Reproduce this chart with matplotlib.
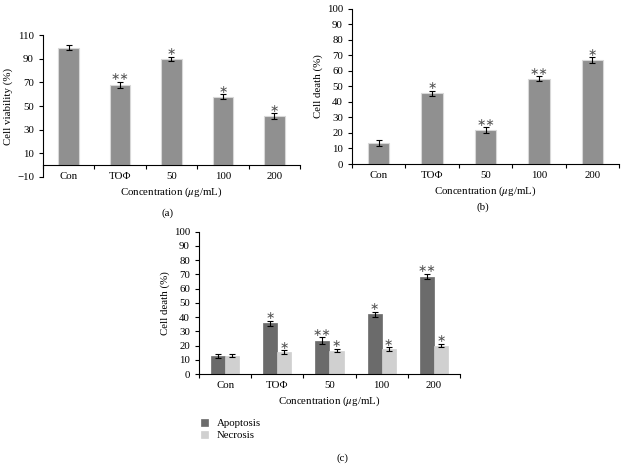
# three bar panels: cell viability, cell death, apoptosis / necrosis

import numpy as np
import matplotlib.pyplot as plt

plt.rcParams['font.family'] = ['Liberation Serif', 'DejaVu Sans']
plt.rcParams['mathtext.fontset'] = 'stix'
plt.rcParams['font.size'] = 7.8

# data
groups = ['Con', 'TOΦ', '50', '100', '200']

viability = [99.5, 68, 90, 58, 41.5]
viability_err = [2.2, 2.5, 2.0, 2.0, 2.2]
viability_mark = ['', '∗∗', '∗', '∗', '∗']

death = [13.5, 45.5, 22, 55, 67]
death_err = [1.8, 1.8, 1.8, 1.5, 1.8]
death_mark = ['', '∗', '∗∗', '∗∗', '∗']

apoptosis = [12.5, 35.5, 23.5, 42, 68.5]
apoptosis_err = [1.5, 2.0, 2.2, 1.6, 2.0]
apoptosis_mark = ['', '∗', '∗∗', '∗', '∗∗']
necrosis = [13, 15.5, 16.5, 17.5, 20]
necrosis_err = [1.3, 1.3, 1.3, 1.3, 1.3]
necrosis_mark = ['', '∗', '∗', '∗', '∗']

xlab = r'Concentration ($\mu$g/mL)'
mark_kw = dict(ha='center', va='bottom', fontsize=8, color='#555555',
               family=['DejaVu Sans'])
err_kw = dict(ecolor='black', elinewidth=0.8, capsize=2, capthick=0.8)


def style_axis(ax, ymin, ymax, step):
    x = np.arange(len(groups))
    ax.spines['top'].set_visible(False)
    ax.spines['right'].set_visible(False)
    ax.spines['bottom'].set_position(('data', 0))
    ax.set_xlim(-0.5, len(groups) - 0.5)
    ax.set_ylim(ymin, ymax)
    ax.set_yticks(np.arange(ymin, ymax + 1, step))
    ax.set_xticks(np.arange(-0.5, len(groups), 1.0))
    ax.set_xticklabels([])
    ax.set_xticks(x, minor=True)
    ax.set_xticklabels(groups, minor=True)
    ax.tick_params(axis='x', which='minor', length=0, pad=5)
    ax.tick_params(axis='both', which='major', length=3, width=0.8)
    for s in ax.spines.values():
        s.set_linewidth(0.8)


fig = plt.figure(figsize=(6.22, 4.67), dpi=100)

# (a) cell viability
ax = fig.add_axes([0.0691, 0.6216, 0.4132, 0.3028])
x = np.arange(len(groups))
ax.bar(x, viability, 0.4, yerr=viability_err, color='#909090',
       edgecolor='#d8d8d8', linewidth=0.8, error_kw=err_kw)
for xi, v, e, m in zip(x, viability, viability_err, viability_mark):
    ax.text(xi, v + e - 0.5, m, **mark_kw)
style_axis(ax, -10, 110, 20)
ax.set_ylabel('Cell viability (%)', labelpad=3)
ax.set_xlabel(xlab, labelpad=3)
fig.text(0.2685, 0.5439, '(a)', ha='center', va='center')

# (b) cell death
ax = fig.add_axes([0.5659, 0.6488, 0.4293, 0.3326])
ax.bar(x, death, 0.4, yerr=death_err, color='#909090',
       edgecolor='#d8d8d8', linewidth=0.8, error_kw=err_kw)
for xi, v, e, m in zip(x, death, death_err, death_mark):
    ax.text(xi, v + e - 0.3, m, **mark_kw)
style_axis(ax, 0, 100, 10)
ax.set_ylabel('Cell death (%)', labelpad=3)
ax.set_xlabel(xlab, labelpad=3)
fig.text(0.7765, 0.5567, '(b)', ha='center', va='center')

# (c) apoptosis / necrosis
ax = fig.add_axes([0.3199, 0.1991, 0.4196, 0.3048])
w = 0.27
ax.bar(x - w / 2, apoptosis, w, yerr=apoptosis_err, color='#6b6b6b',
       edgecolor='#6b6b6b', linewidth=0.5, error_kw=err_kw, label='Apoptosis')
ax.bar(x + w / 2, necrosis, w, yerr=necrosis_err, color='#d0d0d0',
       edgecolor='#d0d0d0', linewidth=0.5, error_kw=err_kw, label='Necrosis')
for xi, v, e, m in zip(x - w / 2, apoptosis, apoptosis_err, apoptosis_mark):
    ax.text(xi, v + e - 0.3, m, **mark_kw)
for xi, v, e, m in zip(x + w / 2, necrosis, necrosis_err, necrosis_mark):
    ax.text(xi, v + e - 0.3, m, **mark_kw)
style_axis(ax, 0, 100, 10)
ax.set_ylabel('Cell death (%)', labelpad=3)
ax.set_xlabel(xlab, labelpad=3)
ax.legend(loc='upper left', bbox_to_anchor=(0.315, 0.115),
          bbox_transform=fig.transFigure, frameon=False,
          handlelength=0.6, handleheight=0.6, handletextpad=0.8,
          labelspacing=0.3, borderpad=0)
fig.text(0.5498, 0.0193, '(c)', ha='center', va='center')

fig.savefig('out.png', dpi=100)
